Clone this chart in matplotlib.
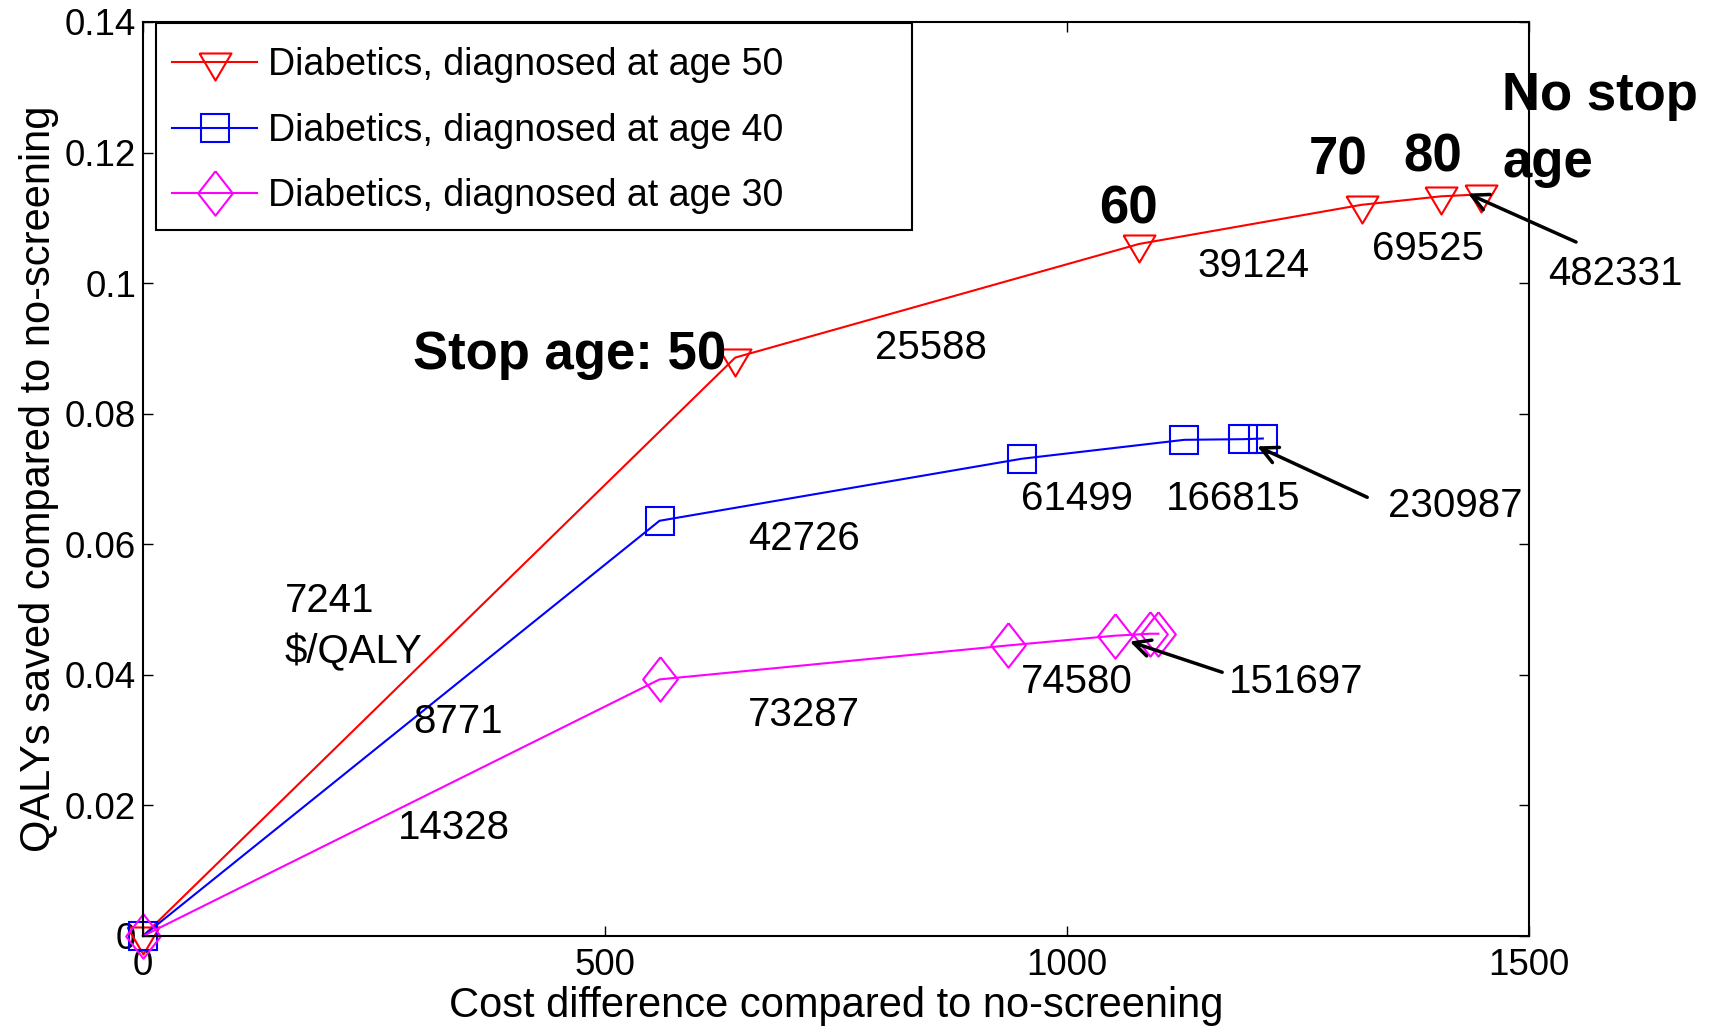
import numpy as np
import matplotlib
matplotlib.use('Agg')
from matplotlib import pyplot as plt
from matplotlib.patches import Rectangle

plt.rcParams['font.family'] = ['Liberation Sans', 'DejaVu Sans']

# cost difference vs QALYs saved, one point per stop age
cost_50 = [0, 641, 1078, 1319, 1405, 1448]
qaly_50 = [0, 0.0886, 0.1060, 0.1120, 0.1133, 0.1136]
cost_40 = [0, 559, 951, 1127, 1191, 1212]
qaly_40 = [0, 0.0636, 0.0731, 0.0760, 0.0761, 0.0762]
cost_30 = [0, 559, 936, 1052, 1090, 1099]
qaly_30 = [0, 0.0393, 0.0445, 0.0460, 0.0463, 0.0463]
labels = ['Diabetics, diagnosed at age 50',
          'Diabetics, diagnosed at age 40',
          'Diabetics, diagnosed at age 30']

# ICER labels ($/QALY): text, x, y (baseline of last line)
icer = [('7241\n$/QALY', 153, 0.0418),
        ('8771', 292, 0.0311),
        ('14328', 276, 0.0149),
        ('25588', 792, 0.0884),
        ('42726', 655, 0.0591),
        ('73287', 655, 0.0322),
        ('39124', 1141, 0.1009),
        ('69525', 1330, 0.1035),
        ('61499', 950, 0.0653),
        ('166815', 1107, 0.0653),
        ('74580', 950, 0.0372),
        ('482331', 1521, 0.0997),
        ('230987', 1347, 0.0642),
        ('151697', 1175, 0.0372)]
# arrows: head (x, y), tail (x, y)
arrows = [((1434, 0.1137), (1551, 0.1063)),
          ((1206, 0.0750), (1325, 0.0672)),
          ((1068, 0.0451), (1168, 0.0404))]
# stop age labels
stop = [('60', 1067, 0.1092), ('70', 1293, 0.1166), ('80', 1396, 0.1171)]

tri = [(-0.59, 0.333), (0.59, 0.333), (0, -0.667), (-0.59, 0.333)]
dia = [(0, 0.5), (0.39, 0), (0, -0.5), (-0.39, 0), (0, 0.5)]

fig = plt.figure(figsize=(17.15, 10.28), dpi=100)
ax = fig.add_axes([0.0834, 0.0895, 0.8081, 0.8891])

ax.plot(cost_50, qaly_50, color='red', lw=1.5, marker=tri, ms=26,
        mfc='none', mew=1.5, clip_on=False, label=labels[0])
ax.plot(cost_40, qaly_40, color='blue', lw=1.5, marker='s', ms=20,
        mfc='none', mew=1.5, clip_on=False, label=labels[1])
ax.plot(cost_30, qaly_30, color='magenta', lw=1.5, marker=dia, ms=32,
        mfc='none', mew=1.5, clip_on=False, label=labels[2])

for t, x, y in icer:
    ax.text(x, y, t, fontsize=29, ha='left', va='baseline', linespacing=1.42)
for head, tail in arrows:
    ax.annotate('', xy=head, xytext=tail, annotation_clip=False,
                arrowprops=dict(arrowstyle='->', lw=2.5, color='black',
                                mutation_scale=30, shrinkA=0, shrinkB=0))
for t, x, y in stop:
    ax.text(x, y, t, fontsize=38, fontweight='bold', ha='center', va='baseline')
ax.text(292, 0.0868, 'Stop age: 50', fontsize=38, fontweight='bold',
        ha='left', va='baseline')
ax.text(1471, 0.1163, 'No stop\nage', fontsize=38, fontweight='bold',
        ha='left', va='baseline', linespacing=1.42)

ax.set_xlim(0, 1500)
ax.set_ylim(0, 0.14)
ax.set_xticks([0, 500, 1000, 1500])
ax.set_yticks(np.arange(0, 0.141, 0.02))
ax.set_yticklabels(['0', '0.02', '0.04', '0.06', '0.08', '0.1', '0.12', '0.14'])
ax.tick_params(direction='in', top=True, right=True, length=7, width=1,
               labelsize=26.5)
ax.tick_params(axis='x', pad=9)
ax.tick_params(axis='y', pad=5)
for s in ax.spines.values():
    s.set_linewidth(1.5)

ax.set_xlabel('Cost difference compared to no-screening', fontsize=30, labelpad=2)
ax.set_ylabel('QALYs saved compared to no-screening', fontsize=30, labelpad=4)

# legend box is wider than its entries, so draw the frame separately
box = Rectangle((156 / 1715, 1 - 230 / 1028), 756 / 1715, 207 / 1028,
                transform=fig.transFigure, facecolor='white', edgecolor='black',
                lw=1.5, zorder=4.5)
ax.add_patch(box)
box.set_clip_on(False)
ax.legend(loc='upper left', bbox_to_anchor=(148 / 1715, 1 - 23 / 1028),
          bbox_transform=fig.transFigure, fontsize=27, frameon=False,
          borderaxespad=0, handlelength=2.27, handletextpad=0.3,
          labelspacing=0.79, borderpad=0.64)

fig.savefig('out.png', dpi=100)
